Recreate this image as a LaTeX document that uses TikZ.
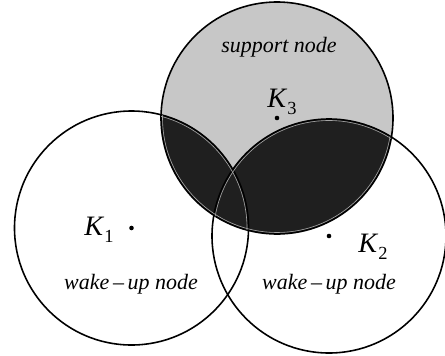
\documentclass[tikz,border=0pt]{standalone}
\usepackage{fontspec}
\setmainfont{Liberation Serif}
\usetikzlibrary{positioning}
\tikzset{
    rangecircle/.style={draw=black, line width=0.9pt},
    innerline/.style={draw=black!35, line width=0.35pt},
    keydot/.style={fill=black},
    nodetext/.style={font=\fontsize{12.5}{14}\selectfont\itshape, inner sep=0pt},
    keytext/.style={font=\fontsize{16}{18}\selectfont, inner sep=0pt}
}
\newcommand{\keyname}[1]{\textit{K}\raisebox{-0.55ex}{\fontsize{10.5}{12}\selectfont #1}}

\begin{document}
\begin{tikzpicture}[x=0.02cm, y=-0.02cm]
        \useasboundingbox (0,0) rectangle (445,355);
        % Centres
        \coordinate (k1) at (131.5,228);
        \coordinate (k2) at (329,236);
        \coordinate (k3) at (277,118);

        % Fills
        \fill[black!22] (k3) circle[radius=116];
        \begin{scope}
            \clip (k3) circle[radius=116];
            \fill[black!88] (k1) circle[radius=117];
            \fill[black!88] (k2) circle[radius=117];
        \end{scope}

        % Circles
        \draw[rangecircle] (k1) circle[radius=117];
        \draw[rangecircle] (k2) circle[radius=117];
        \draw[rangecircle] (k3) circle[radius=116];
        \begin{scope}
            \clip (k3) circle[radius=116];
            \clip (k1) circle[radius=117] (k2) circle[radius=117];
            \draw[innerline] (k1) circle[radius=115.5];
            \draw[innerline] (k2) circle[radius=115.5];
            \draw[innerline] (k3) circle[radius=114.5];
        \end{scope}

        % Nodes
        \fill[keydot] (k1) circle[radius=2.3];
        \fill[keydot] (k2) circle[radius=2.3];
        \fill[keydot] (k3) circle[radius=2.3];
        \node (n1) [keytext] at (99,230) {\keyname{1}};
        \node (n2) [keytext] at (373,247) {\keyname{2}};
        \node (n3) [keytext] at (282,102) {\keyname{3}};
        \node (s3) [nodetext] at (279,47) {support node};
        \node (w1) [nodetext] at (131,284) {wake\,\textup{--}\,up node};
        \node (w2) [nodetext] at (329,284) {wake\,\textup{--}\,up node};
    \end{tikzpicture}
\end{document}
